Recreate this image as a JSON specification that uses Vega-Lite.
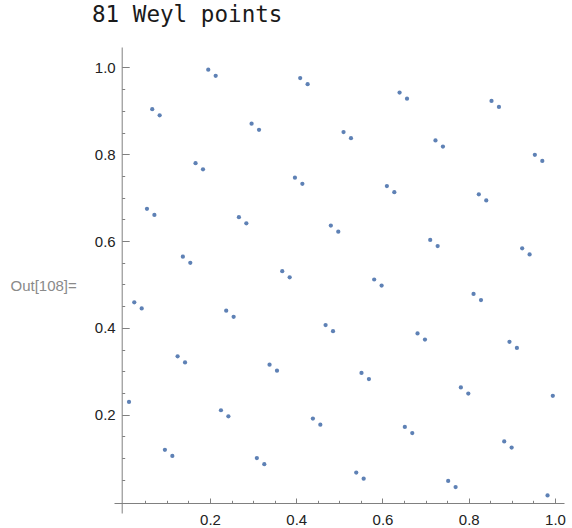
{
  "$schema": "https://vega.github.io/schema/vega-lite/v6.json",
  "width": 450,
  "height": 466,
  "autosize": "none",
  "padding": {"left": 114, "top": 47, "right": 8, "bottom": 15},
  "title": {"text": "81 Weyl points", "font": "DejaVu Sans Mono", "fontSize": 22.6, "fontWeight": "normal", "color": "#1a1a1a", "anchor": "start", "frame": "group", "dx": -22, "offset": 2, "baseline": "alphabetic"},
  "data": {"values": [
    {"n":1,"x":0.41421,"y":0.73205},{"n":2,"x":0.82843,"y":0.46410},{"n":3,"x":0.24264,"y":0.19615},{"n":4,"x":0.65685,"y":0.92820},
    {"n":5,"x":0.07107,"y":0.66025},{"n":6,"x":0.48528,"y":0.39230},{"n":7,"x":0.89949,"y":0.12436},{"n":8,"x":0.31371,"y":0.85641},
    {"n":9,"x":0.72792,"y":0.58846},{"n":10,"x":0.14214,"y":0.32051},{"n":11,"x":0.55635,"y":0.05256},{"n":12,"x":0.97056,"y":0.78461},
    {"n":13,"x":0.38478,"y":0.51666},{"n":14,"x":0.79899,"y":0.24871},{"n":15,"x":0.21320,"y":0.98076},{"n":16,"x":0.62742,"y":0.71281},
    {"n":17,"x":0.04163,"y":0.44486},{"n":18,"x":0.45584,"y":0.17691},{"n":19,"x":0.87006,"y":0.90897},{"n":20,"x":0.28427,"y":0.64102},
    {"n":21,"x":0.69848,"y":0.37307},{"n":22,"x":0.11270,"y":0.10512},{"n":23,"x":0.52691,"y":0.83717},{"n":24,"x":0.94113,"y":0.56922},
    {"n":25,"x":0.35534,"y":0.30127},{"n":26,"x":0.76955,"y":0.03332},{"n":27,"x":0.18377,"y":0.76537},{"n":28,"x":0.59798,"y":0.49742},
    {"n":29,"x":0.01219,"y":0.22947},{"n":30,"x":0.42641,"y":0.96152},{"n":31,"x":0.84062,"y":0.69358},{"n":32,"x":0.25483,"y":0.42563},
    {"n":33,"x":0.66905,"y":0.15768},{"n":34,"x":0.08326,"y":0.88973},{"n":35,"x":0.49747,"y":0.62178},{"n":36,"x":0.91169,"y":0.35383},
    {"n":37,"x":0.32590,"y":0.08588},{"n":38,"x":0.74012,"y":0.81793},{"n":39,"x":0.15433,"y":0.54998},{"n":40,"x":0.56854,"y":0.28203},
    {"n":41,"x":0.98276,"y":0.01408},{"n":42,"x":0.39697,"y":0.74613},{"n":43,"x":0.81118,"y":0.47818},{"n":44,"x":0.22540,"y":0.21024},
    {"n":45,"x":0.63961,"y":0.94229},{"n":46,"x":0.05382,"y":0.67434},{"n":47,"x":0.46804,"y":0.40639},{"n":48,"x":0.88225,"y":0.13844},
    {"n":49,"x":0.29646,"y":0.87049},{"n":50,"x":0.71068,"y":0.60254},{"n":51,"x":0.12489,"y":0.33459},{"n":52,"x":0.53911,"y":0.06664},
    {"n":53,"x":0.95332,"y":0.79869},{"n":54,"x":0.36753,"y":0.53074},{"n":55,"x":0.78175,"y":0.26279},{"n":56,"x":0.19596,"y":0.99485},
    {"n":57,"x":0.61017,"y":0.72690},{"n":58,"x":0.02439,"y":0.45895},{"n":59,"x":0.43860,"y":0.19100},{"n":60,"x":0.85281,"y":0.92305},
    {"n":61,"x":0.26703,"y":0.65510},{"n":62,"x":0.68124,"y":0.38715},{"n":63,"x":0.09545,"y":0.11920},{"n":64,"x":0.50967,"y":0.85125},
    {"n":65,"x":0.92388,"y":0.58330},{"n":66,"x":0.33810,"y":0.31535},{"n":67,"x":0.75231,"y":0.04740},{"n":68,"x":0.16652,"y":0.77945},
    {"n":69,"x":0.58074,"y":0.51151},{"n":70,"x":0.99495,"y":0.24356},{"n":71,"x":0.40916,"y":0.97561},{"n":72,"x":0.82338,"y":0.70766},
    {"n":73,"x":0.23759,"y":0.43971},{"n":74,"x":0.65180,"y":0.17176},{"n":75,"x":0.06602,"y":0.90381},{"n":76,"x":0.48023,"y":0.63586},
    {"n":77,"x":0.89444,"y":0.36791},{"n":78,"x":0.30866,"y":0.09996},{"n":79,"x":0.72287,"y":0.83201},{"n":80,"x":0.13708,"y":0.56406},
    {"n":81,"x":0.55130,"y":0.29612}
  ]},
  "layer": [
    {
      "mark": {"type": "circle", "size": 18, "color": "#5E81B5", "opacity": 1},
      "encoding": {
        "x": {"field": "x", "type": "quantitative",
          "scale": {"domain": [-0.0226, 1.0209], "nice": false, "zero": false},
          "axis": {"orient": "bottom", "offset": -10, "values": [0.2, 0.4, 0.6, 0.8, 1.0], "format": ".1f", "title": null, "grid": false,
            "tickSize": -5, "tickWidth": 1, "tickColor": "#808080", "domainColor": "#808080", "domainWidth": 1,
            "labelPadding": 14, "labelFont": "Liberation Sans", "labelFontSize": 15, "labelColor": "#222222", "labelOverlap": false, "labelFlush": false}},
        "y": {"field": "y", "type": "quantitative",
          "scale": {"domain": [-0.0265, 1.0472], "nice": false, "zero": false},
          "axis": {"orient": "left", "offset": -7.7, "values": [0.2, 0.4, 0.6, 0.8, 1.0], "format": ".1f", "grid": false,
            "tickSize": -7.5, "tickWidth": 1, "tickColor": "#808080", "domainColor": "#808080", "domainWidth": 1,
            "labelPadding": 14, "labelFont": "Liberation Sans", "labelFontSize": 15, "labelColor": "#222222", "labelOverlap": false, "labelFlush": false,
            "title": "Out[108]=", "titleAngle": 0, "titleAlign": "left", "titleBaseline": "alphabetic", "titleX": -111.7, "titleY": 243.5,
            "titleFont": "Liberation Sans", "titleFontSize": 15, "titleFontWeight": "normal", "titleColor": "#8a8a8a"}}
      }
    },
    {
      "mark": {"type": "circle", "size": 18, "opacity": 0},
      "encoding": {
        "x": {"field": "x", "type": "quantitative",
          "axis": {"orient": "bottom", "offset": -10, "values": [0.05, 0.1, 0.15, 0.25, 0.3, 0.35, 0.45, 0.5, 0.55, 0.65, 0.7, 0.75, 0.85, 0.9, 0.95], "labels": false, "domain": false, "title": null, "grid": false,
            "tickSize": -2.7, "tickWidth": 1, "tickColor": "#808080"}},
        "y": {"field": "y", "type": "quantitative",
          "axis": {"orient": "left", "offset": -7.7, "values": [0.05, 0.1, 0.15, 0.25, 0.3, 0.35, 0.45, 0.5, 0.55, 0.65, 0.7, 0.75, 0.85, 0.9, 0.95], "labels": false, "domain": false, "title": null, "grid": false,
            "tickSize": -3, "tickWidth": 1, "tickColor": "#808080"}}
      }
    }
  ],
  "resolve": {"axis": {"x": "independent", "y": "independent"}},
  "config": {"view": {"stroke": null}, "background": "white"}
}
